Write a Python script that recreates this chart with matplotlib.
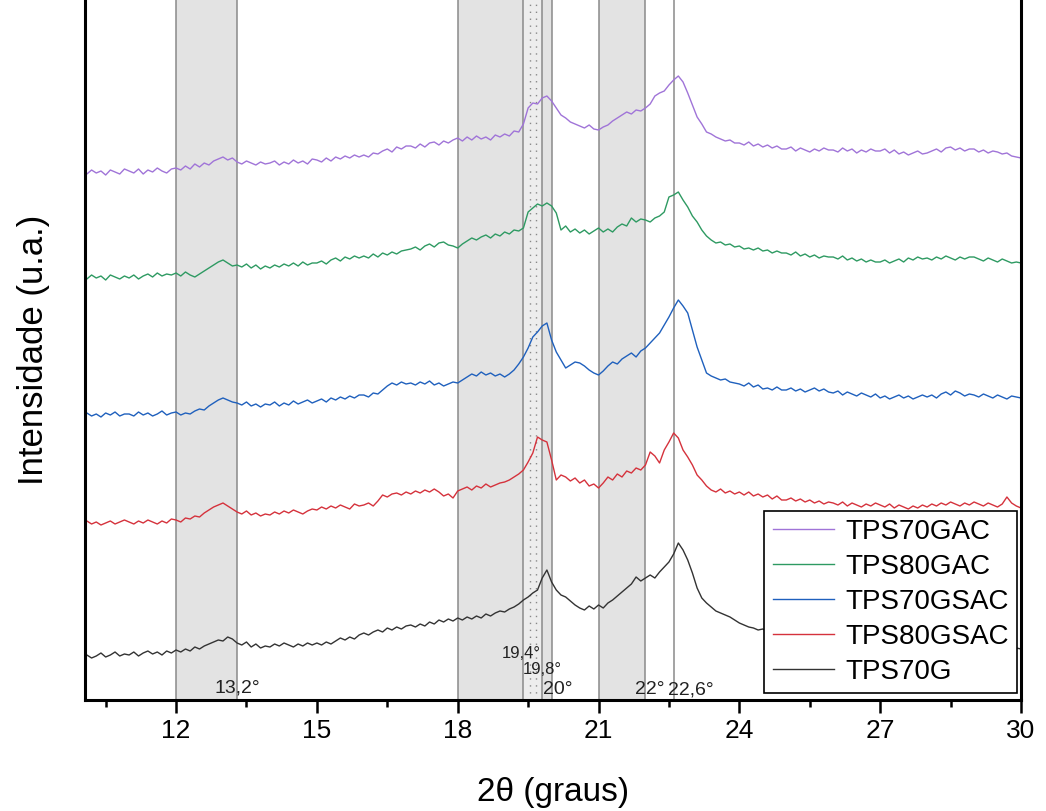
import numpy as np
import matplotlib
matplotlib.use("Agg")
from matplotlib import pyplot as plt

plt.rcParams['font.family'] = ['Liberation Sans', 'DejaVu Sans']

# 2theta de 10 a 30 graus, passo 0.1
two_theta = np.round(np.arange(10.0, 30.01, 0.1), 1)

# intensidades (u.a.), ja com deslocamento vertical
tps70gac = [
    528, 526, 530, 527, 529, 525, 530, 528, 526, 531,
    529, 527, 531, 526, 530, 528, 532, 529, 527, 531,
    532, 530, 534, 531, 536, 533, 537, 535, 539, 541,
    543, 540, 542, 538, 536, 539, 537, 535, 538, 536,
    537, 539, 535, 538, 536, 540, 537, 539, 536, 541,
    540, 538, 542, 539, 543, 541, 544, 542, 545, 543,
    545, 543, 547, 546, 549, 551, 548, 553, 551, 554,
    554, 552, 556, 553, 557, 558, 555, 559, 557, 560,
    562, 559, 563, 560, 564, 561, 563, 560, 565, 563,
    566, 564, 569, 568, 576, 592, 597, 596, 602, 604,
    599, 592, 585, 582, 578, 576, 574, 572, 575, 571,
    570, 573, 575, 579, 582, 585, 588, 586, 590, 589,
    592, 596, 604, 607, 609, 615, 620, 624, 618, 607,
    595, 583, 576, 568, 566, 563, 561, 559, 560, 557,
    557, 555, 558, 554, 556, 553, 555, 552, 554, 551,
    551, 553, 549, 552, 550, 548, 551, 549, 552, 550,
    550, 548, 552, 549, 551, 547, 550, 548, 551, 549,
    549, 551, 547, 550, 546, 548, 545, 547, 549, 546,
    547, 549, 551, 548, 552, 553, 550, 552, 549, 551,
    551, 548, 550, 547, 549, 548, 546, 547, 544, 543,
    542]
tps80gac = [
    423, 421, 425, 422, 424, 420, 425, 423, 421, 424,
    422, 425, 421, 424, 426, 423, 427, 424, 426, 425,
    427, 424, 428, 425, 423, 426, 429, 432, 435, 438,
    440, 437, 434, 435, 433, 436, 432, 435, 431, 434,
    432, 435, 433, 436, 434, 437, 434, 438, 435, 437,
    437, 439, 436, 440, 442, 439, 443, 441, 444, 442,
    444, 442, 446, 443, 447, 445, 448, 446, 449, 450,
    451, 453, 450, 454, 456, 453, 457, 458, 455, 454,
    452, 456, 459, 462, 460, 463, 465, 462, 466, 464,
    468, 466, 470, 469, 472, 488, 492, 496, 494, 497,
    494, 487, 470, 474, 468, 471, 467, 470, 466, 469,
    472, 468, 471, 468, 473, 476, 474, 482, 478, 481,
    480, 478, 482, 484, 488, 503, 505, 508, 500, 493,
    484, 478, 470, 464, 460, 457, 458, 455, 456, 453,
    454, 451, 452, 450, 452, 449, 450, 447, 449, 447,
    447, 445, 448, 444, 446, 443, 445, 442, 444, 443,
    443, 441, 444, 440, 442, 439, 441, 438, 440, 438,
    438, 440, 437, 439, 441, 438, 442, 440, 443, 441,
    442, 440, 443, 441, 444, 442, 440, 443, 441, 443,
    443, 441, 439, 442, 440, 438, 441, 439, 437, 438,
    437]
tps70gsac = [
    285, 287, 284, 286, 283, 287, 285, 288, 284, 286,
    286, 284, 288, 285, 287, 284, 286, 289, 285, 287,
    288, 285, 287, 286, 289, 291, 290, 294, 297, 300,
    302, 300, 298, 297, 295, 298, 294, 296, 293, 296,
    295, 298, 294, 297, 295, 299, 296, 298, 300, 297,
    299, 301, 298, 302, 300, 303, 301, 304, 302, 305,
    305, 303, 307, 306, 310, 314, 317, 315, 318, 316,
    317, 315, 318, 316, 319, 315, 317, 314, 316, 318,
    317, 320, 323, 326, 324, 328, 325, 327, 324, 326,
    323, 326, 330, 336, 343, 352, 363, 368, 374, 377,
    360, 348, 340, 332, 335, 338, 337, 334, 330, 327,
    325, 329, 334, 338, 336, 341, 344, 347, 343, 349,
    352, 357, 362, 367, 375, 383, 392, 400, 394, 387,
    370, 353, 340, 327, 324, 322, 320, 321, 318, 317,
    316, 314, 317, 313, 315, 311, 312, 310, 313, 310,
    310, 312, 309, 311, 308, 310, 312, 309, 311, 308,
    307, 309, 305, 308, 306, 304, 307, 305, 303, 306,
    302, 304, 301, 303, 305, 302, 304, 301, 303, 305,
    303, 305, 302, 306, 308, 305, 309, 307, 304, 306,
    305, 303, 306, 304, 302, 305, 303, 301, 304, 303,
    302]
tps80gsac = [
    177, 179, 176, 178, 175, 177, 179, 176, 178, 180,
    178, 176, 179, 177, 180, 178, 176, 179, 177, 181,
    180, 178, 182, 181, 184, 183, 187, 190, 193, 195,
    197, 194, 191, 188, 186, 189, 185, 187, 184, 186,
    185, 188, 186, 189, 187, 190, 188, 186, 189, 191,
    190, 193, 191, 194, 192, 195, 193, 191, 196, 194,
    195, 197, 194, 199, 205, 203, 206, 207, 205, 208,
    206, 209, 207, 210, 208, 211, 208, 204, 206, 202,
    209, 211, 213, 210, 214, 212, 216, 213, 215, 217,
    218, 220, 223, 226, 230, 238, 247, 263, 260, 258,
    240, 220, 225, 223, 219, 222, 217, 220, 214, 216,
    212, 217, 223, 220, 226, 223, 229, 227, 232, 230,
    235, 248, 244, 237, 250, 258, 267, 262, 250, 243,
    235, 225, 220, 214, 210, 208, 211, 207, 209, 206,
    208, 205, 208, 204, 206, 203, 205, 201, 204, 200,
    200, 202, 199, 201, 198, 200, 197, 199, 196, 198,
    197, 195, 198, 194, 197, 195, 193, 196, 194, 197,
    195, 193, 196, 192, 195, 193, 191, 194, 192, 195,
    193, 196, 194, 197, 195, 198, 196, 194, 197, 195,
    198, 196, 194, 197, 195, 193, 196, 203, 197, 194,
    192]
tps70g = [
    43, 45, 42, 44, 47, 43, 45, 48, 44, 46,
    45, 48, 44, 47, 49, 46, 48, 45, 49, 47,
    50, 48, 51, 49, 53, 51, 54, 56, 58, 60,
    59, 63, 61, 57, 55, 58, 53, 56, 52, 54,
    53, 56, 54, 57, 55, 53, 56, 54, 57, 55,
    57, 55, 58, 56, 59, 62, 60, 63, 61, 65,
    67, 65, 68, 70, 68, 72, 70, 73, 71, 74,
    75, 73, 76, 74, 78, 76, 80, 78, 81, 79,
    82, 80, 83, 81, 84, 82, 86, 84, 87, 89,
    88, 91, 93, 96, 100, 103, 107, 110, 122, 130,
    118, 110, 105, 103, 99, 95, 92, 90, 94, 91,
    95, 92, 97, 100, 104, 108, 112, 116, 123, 119,
    122, 125, 122, 128, 133, 138, 146, 157, 150, 140,
    127, 112, 102, 97, 93, 89, 87, 85, 83, 80,
    77, 75, 73, 72, 70, 71, 68, 69, 66, 67,
    65, 66, 64, 65, 63, 64, 62, 63, 61, 62,
    61, 62, 60, 61, 59, 60, 58, 59, 60, 58,
    58, 59, 57, 58, 56, 57, 58, 56, 57, 55,
    56, 57, 55, 56, 54, 55, 56, 54, 55, 53,
    54, 55, 53, 54, 52, 53, 54, 52, 53, 52,
    51]

series_names = ['TPS70GAC', 'TPS80GAC', 'TPS70GSAC', 'TPS80GSAC', 'TPS70G']
series_data = [tps70gac, tps80gac, tps70gsac, tps80gsac, tps70g]
series_colors = ['#a074d8', '#2e9a62', '#1f60bd', '#d5323c', '#333333']

# faixas sombreadas (graus)
bands = [(12.0, 13.3), (18.0, 19.4), (19.8, 20.0), (21.0, 22.0)]
band_dotted = (19.4, 19.8)
peak_lines = [12.0, 13.3, 18.0, 19.4, 19.8, 20.0, 21.0, 22.0, 22.6]
peak_labels = ['13,2°', '19,4°', '19,8°', '20°', '22°', '22,6°']
label_x = [13.3, 19.35, 19.8, 20.14, 22.1, 22.97]
label_y = [12, 47, 31, 10, 10, 10]
label_size = [14, 12, 12, 14, 14, 14]

fig = plt.figure(figsize=(10.46, 8.11), dpi=100)
ax = fig.add_axes([85 / 1046, 1 - 700 / 811, 936 / 1046, 700 / 811])

for a, b in bands:
    ax.axvspan(a, b, color='#e3e3e3', lw=0, zorder=0)
ax.axvspan(*band_dotted, color='#ededed', lw=0, zorder=0)
for xd in (19.54, 19.67):
    ax.axvline(xd, color='#888888', lw=1, ls=(0, (1, 4)), zorder=1)
for xl in peak_lines:
    ax.axvline(xl, color='#8a8a8a', lw=1.1, zorder=1)

for name, y, c in zip(series_names, series_data, series_colors):
    ax.plot(two_theta, y, color=c, lw=1.0, label=name, zorder=2)

for t, xx, yy, fs in zip(peak_labels, label_x, label_y, label_size):
    ax.text(xx, yy, t, ha='center', va='center', fontsize=fs, color='#222222', zorder=3)

ax.set_xlim(10.06, 30)
ax.set_ylim(0, 700)
ax.set_xticks([12, 15, 18, 21, 24, 27, 30])
ax.set_xticks(np.arange(10.5, 30.1, 3), minor=True)
ax.tick_params(axis='x', which='major', length=9, width=1.8, labelsize=19, pad=5)
ax.tick_params(axis='x', which='minor', length=5, width=1.8)
ax.set_yticks([])
for s in ('left', 'bottom', 'right'):
    ax.spines[s].set_linewidth(2.2)
ax.spines['top'].set_visible(False)

ax.set_xlabel('2θ (graus)', fontsize=24, labelpad=24)
ax.set_ylabel('Intensidade (u.a.)', fontsize=25, labelpad=25)

leg = ax.legend(loc='lower right', bbox_to_anchor=(1 - 4 / 936, 7 / 700), fontsize=20,
                frameon=True, fancybox=False, framealpha=1, handlelength=2.2,
                handletextpad=0.4, labelspacing=0.32, borderpad=0.3, borderaxespad=0)
leg.get_frame().set_edgecolor('black')
leg.get_frame().set_linewidth(1.2)
leg.set_zorder(5)

fig.savefig('out.png', dpi=100)
